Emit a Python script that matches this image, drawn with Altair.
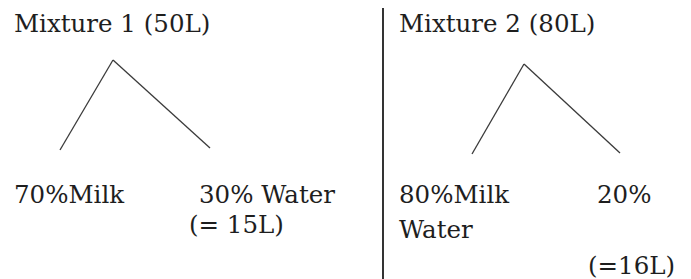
import altair as alt
import pandas as pd

# Text labels of the diagram (reference pixel coordinates, left edge / baseline)
labels = ["Mixture 1 (50L)", "70%Milk", "30% Water", "(= 15L)",
          "Mixture 2 (80L)", "80%Milk", "Water", "20%", "(=16L)"]
label_x = [14, 14, 199, 189, 399, 399, 399, 597, 588]
label_y = [32, 203, 203, 233, 32, 203, 238, 203, 274]

# Tree branches: apex -> leg end
seg_x = [113, 113, 524, 524]
seg_y = [60, 60, 64, 64]
seg_x2 = [60, 210, 472, 620]
seg_y2 = [150, 148, 154, 153]

# Divider line
div_x = [383]
div_y = [0]
div_y2 = [279]

W, H = 675, 271
xs = alt.Scale(domain=[8, 8 + W], nice=False, zero=False)
ys = alt.Scale(domain=[8 + H, 8], nice=False, zero=False)

text_df = pd.DataFrame({"label": labels, "x": label_x, "y": label_y})
seg_df = pd.DataFrame({"x": seg_x, "y": seg_y, "x2": seg_x2, "y2": seg_y2})
div_df = pd.DataFrame({"x": div_x, "y": div_y, "y2": div_y2})

ax = dict(axis=None)

segs = alt.Chart(seg_df).mark_rule(color="#3a3a3a", strokeWidth=1.3).encode(
    x=alt.X("x:Q", scale=xs, **ax), y=alt.Y("y:Q", scale=ys, **ax),
    x2="x2:Q", y2="y2:Q")

div = alt.Chart(div_df).mark_rule(color="#000000", strokeWidth=1.6).encode(
    x=alt.X("x:Q", scale=xs, **ax), y=alt.Y("y:Q", scale=ys, **ax), y2="y2:Q")

texts = alt.Chart(text_df).mark_text(
    align="left", baseline="alphabetic", font="DejaVu Serif", fontSize=24.5,
    color="#1e1e1e").encode(
    x=alt.X("x:Q", scale=xs, **ax), y=alt.Y("y:Q", scale=ys, **ax), text="label:N")

chart = alt.layer(segs, div, texts).properties(
    width=W, height=H, padding=0, background="white",
    autosize=alt.AutoSizeParams(type="none")
).configure_view(strokeWidth=0, strokeOpacity=0)

chart.save("out.html", embed_options={"renderer": "svg", "actions": False})
